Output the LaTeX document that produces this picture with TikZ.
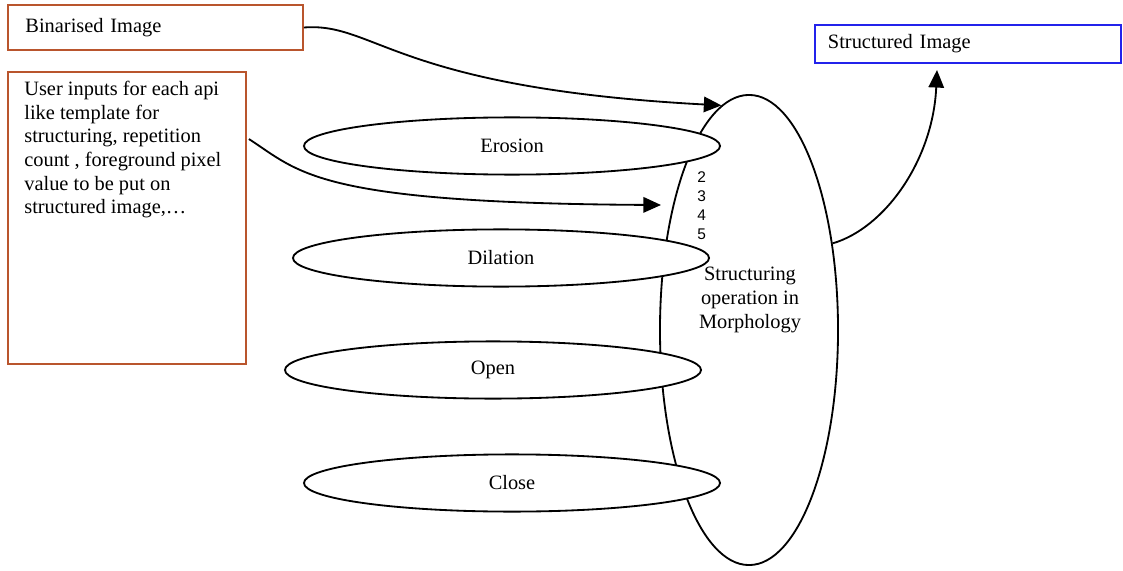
\documentclass[tikz,border=0pt]{standalone}
\usepackage{fontspec}
\setmainfont{Liberation Serif}
\setsansfont{Liberation Sans}
\usepackage{tikz}
\usetikzlibrary{shapes.geometric,arrows.meta}

\definecolor{boxbrown}{RGB}{185,85,45}
\definecolor{boxblue}{RGB}{35,35,235}

\tikzset{
	inbox/.style={shape=rectangle, draw=boxbrown, line width=1.3pt, inner sep=0pt},
	outbox/.style={shape=rectangle, draw=boxblue, line width=1.3pt, inner sep=0pt},
	opnode/.style={shape=ellipse, draw=black, fill=white, line width=1.3pt, inner sep=0pt,
		minimum width=10.4cm, minimum height=1.43cm},
	flow/.style={-{Triangle[length=12.5pt,width=11pt]}, line width=1.3pt},
	txt/.style={font=\fontsize{14.5}{16.8}\selectfont},
}

\begin{document}
\begin{tikzpicture}[x=0.025cm, y=-0.025cm, txt]
	\useasboundingbox (0,0) rectangle (1123,571);

	% big ellipse behind the operations
	\node[shape=ellipse, draw=black, line width=1.3pt, inner sep=0pt,
		minimum width=4.45cm, minimum height=11.75cm] (morph) at (749,330) {};

	\node[opnode] (erosion)  at (512,146) {Erosion};
	\node[opnode] (dilation) at (501,258) {Dilation};
	\node[opnode] (open)     at (493,370) {Open};
	\node[opnode] (close)    at (512,483) {Close};

	\node[align=center, inner sep=0pt] (morphtext) at (750,300)
		{Structuring\\operation in\\Morphology};
	\node[anchor=north west, align=left, inner sep=0pt,
		font=\sffamily\fontsize{11}{13.5}\selectfont] (nums) at (697,171) {2\\3\\4\\5};

	% input and output boxes
	\node[inbox, minimum width=7.375cm, minimum height=1.125cm,
		text width=6.5cm, align=left] (binbox) at (155.5,27.5) {Binarised Image};
	\node[inbox, minimum width=5.95cm, minimum height=7.3cm] (userbox) at (127,218) {};
	\node[anchor=north west, align=left, inner sep=0pt] (usertext)
		at ([shift={(17,10)}]userbox.north west)
		{User inputs for each api\\like template for\\structuring, repetition\\count , foreground pixel\\value to be put on\\structured image,\dots};
	\node[outbox, minimum width=7.65cm, minimum height=0.95cm,
		text width=7.0cm, align=left] (outbox) at (968,44) {Structured Image};

	\coordinate (userstart) at ([shift={(2,68)}]userbox.north east);
	\coordinate (userend) at (661,205);
	\coordinate (outend) at (937,70);

	\draw[flow] (binbox.east) .. controls (375,22) and (395,88) .. (morph.97);
	\draw[flow] (userstart) .. controls (300,172) and (315,203) .. (userend);
	\draw[flow] (morph.46) .. controls (885,228) and (933,160) .. (outend);

\end{tikzpicture}
\end{document}
